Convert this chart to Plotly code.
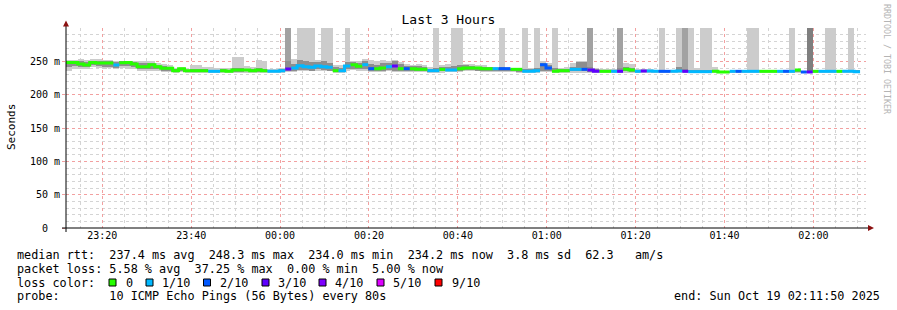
import plotly.graph_objects as go
from datetime import datetime, timedelta

# ---------------- data ----------------
START = datetime(2025, 10, 18, 23, 11, 50)
END = datetime(2025, 10, 19, 2, 11, 50)
STEP_S = 80

median_ms = [248.3, 248.3, 246, 244.5, 248.3, 247.5, 247.5, 247.5, 244.5, 248, 248.3, 246, 242, 242, 245, 242,
             239.5, 239.5, 236, 239, 236, 236, 236, 236, 235, 235, 236, 235, 237, 237, 237, 236, 237, 236,
             235, 235, 236, 238.5, 240, 243.5, 242, 241, 243, 242, 241, 236, 236, 243, 245, 242.5, 245, 239,
             239, 240, 242, 243, 239, 239, 239, 238, 238, 236, 236, 238, 237, 237, 239, 240, 240, 240, 239,
             239, 239, 239, 239, 238, 238, 235, 235, 236, 245, 240, 235, 236, 236, 238, 238, 238, 237, 235,
             235, 235, 235, 235, 238, 237, 235, 235.5, 235.5, 235, 235, 235, 235, 235.5, 235, 234.5, 234.5,
             234.5, 234.5, 235, 234, 234, 235, 235, 235, 235, 235, 235, 235, 235, 235, 235, 235, 237, 234,
             234, 235, 235, 235, 235, 235, 235, 235, 234.2]

loss_count = [0, 0, 0, 0, 0, 0, 0, 0, 1, 0, 0, 0, 0, 0, 0, 0, 0, 0, 0, 0, 0, 0, 0, 0, 1, 1, 0, 0, 0, 0,
              0, 0, 0, 0, 1, 1, 1, 3, 1, 1, 1, 1, 1, 1, 1, 0, 1, 1, 0, 0, 1, 2, 0, 0, 1, 3, 0, 2, 0, 0,
              0, 1, 1, 0, 1, 1, 0, 0, 0, 0, 0, 0, 1, 2, 2, 0, 0, 1, 1, 1, 2, 2, 0, 0, 0, 1, 1, 2, 3, 3,
              0, 0, 1, 3, 0, 0, 1, 3, 1, 1, 2, 2, 1, 1, 3, 1, 1, 1, 1, 0, 0, 0, 1, 2, 1, 1, 1, 0, 0, 0,
              1, 2, 1, 0, 2, 3, 0, 1, 1, 1, 0, 1, 1, 1]

smoke_lo = [236, 238, 239, 239, 242, 240, 239, 240, 238, 240, 239, 238, 236, 236, 236, 236, 234, 234, 233, 234,
            233, 233, 233, 233, 233, 233, 233, 233, 233, 233, 233, 233, 233, 233, 233, 233, 233, 234, 234, 235,
            235, 235, 236, 235, 235, 233, 233, 236, 237, 236, 236, 234, 234, 234, 235, 234, 234, 234, 234, 234,
            234, 233, 233, 233, 234, 234, 234, 235, 235, 235, 234, 234, 234, 234, 234, 234, 233, 233, 233, 233,
            234, 234, 233, 233, 233, 233, 233, 233, 233, 233, 233, 233, 233, 233, 233, 233, 233, 233, 233, 233,
            233, 233, 233, 233, 233, 233, 233, 233, 233, 233, 233, 233, 233, 233, 233, 233, 233, 233, 233, 233,
            233, 233, 233, 233, 233, 233, 233, 233, 233, 233, 233, 233, 233, 233]

smoke_hi = [252, 252, 253, 252, 254, 254, 252, 252, 251, 251, 251, 250, 250, 250, 250, 248, 246, 244, 240, 242,
            239, 244, 244, 242, 242, 240, 240, 240, 257, 257, 243, 242, 252, 250, 238, 238, 240, 320, 254, 320,
            320, 320, 252, 320, 320, 245, 244, 320, 251, 250, 253, 252, 250, 252, 250, 252, 249, 246, 245, 246,
            244, 242, 320, 244, 246, 320, 320, 246, 246, 244, 244, 242, 241, 320, 241, 240, 240, 320, 240, 320,
            250, 248, 320, 240, 242, 248, 251, 251, 320, 240, 238, 239, 239, 320, 248, 246, 238, 238, 238, 237,
            320, 237, 237, 320, 320, 320, 240, 320, 320, 241, 236, 236, 237, 237, 237, 320, 320, 236, 236, 236,
            237, 237, 320, 238, 236, 320, 236, 236, 320, 320, 236, 237, 320, 237]

inner_lo = [241, 243, 242, 241, 245, 243, 242, 242, 240, 243, 243, 241, 238, 238, 239, 238, 236, 236, 234, 236,
            234, 234, 234, 234, 234, 234, 234, 234, 234, 234, 235, 234, 234, 234, 234, 234, 234, 236, 236, 237,
            237, 236, 238, 237, 236, 234, 234, 238, 239, 238, 238, 236, 236, 236, 237, 236, 236, 235, 235, 235,
            235, 234, 234, 235, 235, 235, 236, 237, 237, 236, 236, 235, 235, 235, 235, 235, 234, 234, 234, 234,
            236, 236, 234, 234, 234, 235, 235, 235, 234, 234, 234, 234, 234, 234, 235, 234, 234, 234, 234, 234,
            234, 234, 234, 234, 234, 234, 234, 234, 234, 234, 233.5, 233.5, 234, 234, 234, 234, 234, 234, 234, 234,
            234, 234, 234, 234, 233.5, 233.5, 234, 234, 234, 234, 234, 234, 234, 234]

inner_hi = [250, 250, 250, 249, 251, 251, 250, 250, 249, 250, 250, 249, 247, 248, 248, 245, 243, 242, 238, 240,
            237, 238, 238, 238, 237, 237, 238, 237, 240, 240, 239, 238, 240, 239, 237, 236, 238, 250, 246, 252,
            250, 249, 249, 250, 248, 242, 240, 249, 249, 248, 250, 246, 245, 248, 247, 250, 246, 243, 243, 243,
            241, 239, 240, 241, 242, 243, 244, 244, 243, 242, 242, 241, 240, 241, 240, 239, 239, 238, 238, 240,
            248, 245, 240, 238, 239, 242, 249, 249, 241, 238, 237, 237, 237, 240, 241, 240, 237, 237, 237, 236,
            237, 236, 236, 241, 238, 237, 236, 236, 236, 236, 235, 235, 236, 236, 236, 236, 236, 236, 236, 236,
            236, 236, 236, 237, 235, 236, 236, 236, 236, 236, 236, 236, 236, 236]

# steps where more than one ping was far off-scale (darker smoke spikes)
spike_dark_steps = [37, 88, 93, 104]
spike_darker_steps = [125]
SPIKE_TOP = 320

loss_levels = [0, 1, 2, 3, 4, 5, 9]
loss_labels = ["0", "1/10", "2/10", "3/10", "4/10", "5/10", "9/10"]
loss_colors = ["#26ff00", "#00b8ff", "#0059ff", "#5e00ff", "#7e00ff", "#dd00ff", "#ff0000"]

y_tickvals = [0, 50, 100, 150, 200, 250]
y_ticktext = ["0\u00a0\u00a0", "50\u00a0m", "100\u00a0m", "150\u00a0m", "200\u00a0m", "250\u00a0m"]

title_text = "Last 3 Hours"
stats_lines = [
    "median rtt:  237.4 ms avg  248.3 ms max  234.0 ms min  234.2 ms now  3.8 ms sd  62.3   am/s",
    "packet loss: 5.58 % avg  37.25 % max  0.00 % min  5.00 % now",
    "loss color:",
    "probe:       10 ICMP Echo Pings (56 Bytes) every 80s",
]
end_text = "end: Sun Oct 19 02:11:50 2025"

# ---------------- geometry helpers ----------------
W, H = 897, 310
PL, PR, PT, PB = 66, 866, 28, 228


def px(x):
    return (x - PL) / (PR - PL)


def py(y):
    return (PB - y) / (PB - PT)


n = len(median_ms)
starts = [START + timedelta(seconds=STEP_S * i) for i in range(n + 1)]
centers = [START + timedelta(seconds=STEP_S * i + STEP_S / 2) for i in range(n)]
BAR_W = STEP_S * 1000

fig = go.Figure()

# outer smoke
fig.add_trace(go.Bar(x=centers, y=[h - l for l, h in zip(smoke_lo, smoke_hi)], base=smoke_lo,
                     width=BAR_W, marker=dict(color="#cccccc", line=dict(width=0)),
                     hoverinfo="skip", showlegend=False))
# inner smoke
fig.add_trace(go.Bar(x=centers, y=[h - l for l, h in zip(inner_lo, inner_hi)], base=inner_lo,
                     width=BAR_W, marker=dict(color="#8e8e8e", line=dict(width=0)),
                     hoverinfo="skip", showlegend=False))
# darker spikes
for steps, col in ((spike_dark_steps, "#a2a2a2"), (spike_darker_steps, "#7f7f7f")):
    fig.add_trace(go.Bar(x=[centers[i] for i in steps],
                         y=[SPIKE_TOP - inner_hi[i] for i in steps],
                         base=[inner_hi[i] for i in steps],
                         width=BAR_W, marker=dict(color=col, line=dict(width=0)),
                         hoverinfo="skip", showlegend=False))

# median line coloured by loss
for lvl, col in zip(loss_levels, loss_colors):
    xs, ys = [], []
    i = 0
    while i < n:
        if loss_count[i] != lvl:
            i += 1
            continue
        j = i
        while j + 1 < n and loss_count[j + 1] == lvl:
            j += 1
        for k in range(i, j + 1):
            xs.append(starts[k])
            ys.append(median_ms[k])
        xs.append(starts[j + 1])
        ys.append(median_ms[j])
        xs.append(None)
        ys.append(None)
        i = j + 1
    if xs:
        fig.add_trace(go.Scatter(x=xs, y=ys, mode="lines", line=dict(color=col, width=3, shape="hv"),
                                 connectgaps=False, hoverinfo="skip", showlegend=False))

MONO = "DejaVu Sans Mono"
MAJ = "#f2a0a0"
MIN = "#d4d4d4"

fig.update_layout(
    width=W, height=H,
    margin=dict(l=PL, r=W - PR, t=PT, b=H - PB),
    paper_bgcolor="white", plot_bgcolor="white",
    barmode="overlay", bargap=0,
    showlegend=False,
    title=dict(text=title_text, x=0.5, xanchor="center", xref="container",
               y=1 - 19.5 / H, yanchor="middle", yref="container",
               font=dict(family=MONO, size=13, color="black")),
    font=dict(family=MONO, color="black"),
)

fig.update_xaxes(
    type="date", range=[START, END],
    tickformat="%H:%M", dtick=20 * 60 * 1000, tick0="2025-10-18 23:20:00",
    showgrid=True, gridcolor=MAJ, griddash="dot", gridwidth=1,
    minor=dict(dtick=5 * 60 * 1000, tick0="2025-10-18 23:20:00", showgrid=True,
               gridcolor=MIN, griddash="dot", gridwidth=1),
    ticks="", 
    tickfont=dict(family=MONO, size=10, color="black"),
    showline=False, zeroline=False, fixedrange=True,
)
fig.update_yaxes(
    range=[0, 300],
    tickvals=y_tickvals, ticktext=y_ticktext,
    showgrid=True, gridcolor=MAJ, griddash="dot", gridwidth=1,
    minor=dict(dtick=10, tick0=0, showgrid=True, gridcolor=MIN, griddash="dot", gridwidth=1),
    ticks="outside", ticklen=3, tickcolor=MAJ,
    tickfont=dict(family=MONO, size=10, color="black"),
    showline=False, zeroline=False, fixedrange=True,
)

shapes = []
# axis lines
shapes.append(dict(type="line", xref="paper", yref="paper", x0=px(62), x1=px(869), y0=0, y1=0,
                   line=dict(color="black", width=1)))
shapes.append(dict(type="line", xref="paper", yref="paper", x0=0, x1=0, y0=py(232), y1=py(23),
                   line=dict(color="black", width=1)))
# arrows
shapes.append(dict(type="path", xref="paper", yref="paper",
                   path=f"M {px(63)} {py(26.5)} L {px(69)} {py(26.5)} L {px(66)} {py(20.5)} Z",
                   fillcolor="#8b1010", line=dict(width=0)))
shapes.append(dict(type="path", xref="paper", yref="paper",
                   path=f"M {px(868)} {py(225)} L {px(868)} {py(231)} L {px(874)} {py(228)} Z",
                   fillcolor="#8b1010", line=dict(width=0)))

# loss colour boxes
box_x = [109, 146, 203.5, 262, 319, 377, 435]
label_x = [123.5, 160, 217.5, 275.5, 332.5, 390.5, 449.5]
for bx, col in zip(box_x, loss_colors):
    shapes.append(dict(type="rect", xref="paper", yref="paper",
                       x0=px(bx), x1=px(bx + 7), y0=py(286), y1=py(279),
                       fillcolor=col, line=dict(color="black", width=1)))

annotations = []
line_y = [254.5, 268.5, 282.5, 296]
NB = "\u00a0"
for txt, yy in zip(stats_lines, line_y):
    annotations.append(dict(text=txt.replace(" ", NB), xref="paper", yref="paper",
                            x=px(15), y=py(yy), xanchor="left", yanchor="middle", showarrow=False,
                            font=dict(family=MONO, size=11.8, color="black")))
for lx, lab in zip(label_x, loss_labels):
    annotations.append(dict(text=lab, xref="paper", yref="paper",
                            x=px(lx), y=py(282.5), xanchor="left", yanchor="middle", showarrow=False,
                            font=dict(family=MONO, size=11.8, color="black")))
annotations.append(dict(text=end_text.replace(" ", NB), xref="paper", yref="paper",
                        x=px(882), y=py(296), xanchor="right", yanchor="middle", showarrow=False,
                        font=dict(family=MONO, size=11.8, color="black")))
# y axis title
annotations.append(dict(text="Seconds", xref="paper", yref="paper", x=px(11), y=py(127),
                        xanchor="center", yanchor="middle", textangle=-90, showarrow=False,
                        font=dict(family=MONO, size=11, color="black")))
# watermark
annotations.append(dict(text="RRDTOOL / TOBI OETIKER".replace(" ", NB), xref="paper", yref="paper",
                        x=px(887), y=py(59), xanchor="center", yanchor="middle", textangle=90,
                        showarrow=False, font=dict(family=MONO, size=8.3, color="#b4b4b4")))

fig.update_layout(shapes=shapes, annotations=annotations)

fig.write_html("out.html")
